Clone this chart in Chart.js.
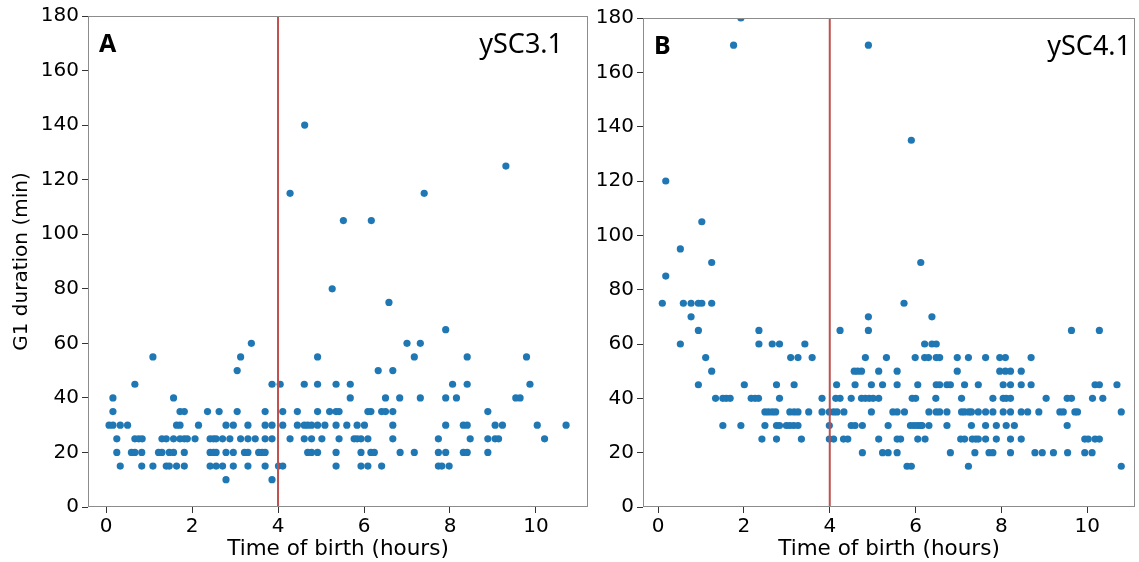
<!DOCTYPE html>
<html>
<head>
<meta charset="utf-8">
<script src="https://cdn.jsdelivr.net/npm/chart.js@4.4.1/dist/chart.umd.min.js"></script>
<style>
  body { margin: 0; background: #fff; }
  #wrapA { position: absolute; left: 0; top: 0; width: 592px; height: 562px; }
  #wrapB { position: absolute; left: 592px; top: 0; width: 547px; height: 562px; }
</style>
</head>
<body>
<div id="wrapA"><canvas id="chartA"></canvas></div>
<div id="wrapB"><canvas id="chartB"></canvas></div>
<script>
// G1 levels (min) and the birth times (hours) of the cells at each level
const levelsA = [140, 125, 115, 105, 80, 75, 65, 60, 55, 50, 45, 40, 35, 30, 25, 20, 15, 10];
const timesA = [
  [4.62],
  [9.30],
  [4.28, 7.40],
  [5.52, 6.17],
  [5.26],
  [6.58],
  [7.90],
  [3.38, 7.00, 7.31],
  [1.09, 3.13, 4.92, 7.17, 8.40, 9.78],
  [3.05, 6.33, 6.67],
  [0.67, 3.86, 4.05, 4.61, 4.92, 5.35, 5.68, 8.06, 8.40, 9.86],
  [0.16, 1.57, 5.68, 6.50, 6.83, 7.31, 7.90, 8.15, 9.53, 9.63],
  [0.16, 1.72, 1.82, 2.36, 2.63, 3.05, 3.70, 4.11, 4.45, 4.92, 5.20, 5.35, 5.42, 6.09, 6.16, 6.41, 6.50, 6.67, 8.88],
  [0.07, 0.16, 0.33, 0.50, 1.64, 1.72, 2.15, 2.79, 2.96, 3.30, 3.70, 3.86, 4.11, 4.45, 4.61, 4.69, 4.78, 4.92, 5.09, 5.35, 5.60, 5.84, 6.01, 6.67, 7.90, 8.31, 8.40, 9.05, 9.22, 10.03, 10.70],
  [0.25, 0.67, 0.76, 0.84, 1.30, 1.40, 1.57, 1.72, 1.82, 1.89, 2.07, 2.42, 2.50, 2.56, 2.71, 2.88, 3.13, 3.30, 3.47, 3.70, 3.86, 4.28, 4.61, 4.78, 5.02, 5.42, 5.77, 5.84, 5.93, 6.09, 6.67, 7.73, 8.47, 8.88, 9.05, 9.13, 10.20],
  [0.25, 0.59, 0.67, 0.83, 1.22, 1.30, 1.47, 1.57, 1.82, 2.42, 2.50, 2.56, 2.79, 2.96, 3.22, 3.30, 3.55, 3.63, 3.70, 4.69, 4.78, 4.92, 5.35, 5.93, 6.16, 6.24, 6.84, 7.17, 7.73, 7.90, 8.31, 8.40, 8.88],
  [0.33, 0.83, 1.09, 1.40, 1.47, 1.64, 1.82, 2.42, 2.56, 2.71, 2.96, 3.30, 3.70, 4.01, 4.11, 5.35, 5.93, 6.09, 6.41, 7.73, 7.81, 7.98],
  [2.79, 3.86]
];

const levelsB = [180, 170, 135, 120, 105, 95, 90, 85, 75, 70, 65, 60, 55, 50, 45, 40, 35, 30, 25, 20, 15];
const timesB = [
  [1.93],
  [1.76, 4.90],
  [5.90],
  [0.18],
  [1.02],
  [0.52],
  [1.25, 6.12],
  [0.18],
  [0.10, 0.59, 0.77, 0.94, 1.02, 1.25, 5.73],
  [0.77, 4.90, 6.38],
  [0.94, 2.35, 4.24, 4.90, 9.63, 10.28],
  [0.52, 2.35, 2.66, 2.83, 3.42, 6.21, 6.38, 6.48],
  [1.11, 3.09, 3.26, 3.59, 4.83, 5.32, 5.99, 6.21, 6.30, 6.48, 6.56, 6.97, 7.23, 7.63, 7.96, 8.09, 8.69],
  [1.25, 4.57, 4.65, 4.74, 5.14, 5.57, 6.97, 7.96, 8.09, 8.21, 8.46],
  [0.94, 2.01, 2.76, 3.17, 4.16, 4.59, 4.97, 5.23, 5.57, 6.05, 6.48, 6.56, 6.73, 6.81, 7.14, 7.46, 8.04, 8.21, 8.46, 8.69, 10.18, 10.28, 10.69],
  [1.34, 1.51, 1.59, 1.68, 2.17, 2.26, 2.34, 2.83, 3.82, 4.14, 4.24, 4.50, 4.74, 4.83, 4.92, 5.01, 5.14, 5.92, 6.00, 6.47, 7.07, 7.80, 8.04, 8.11, 8.21, 9.04, 9.53, 9.63, 10.12, 10.36],
  [2.49, 2.57, 2.66, 2.74, 3.07, 3.17, 3.26, 3.51, 3.82, 3.99, 4.09, 4.17, 4.33, 4.97, 5.47, 5.57, 5.74, 6.31, 6.48, 6.56, 6.73, 7.07, 7.14, 7.24, 7.30, 7.46, 7.63, 7.80, 8.04, 8.21, 8.46, 8.61, 8.87, 9.36, 9.44, 9.71, 9.77, 10.79],
  [1.51, 1.93, 2.49, 2.76, 2.83, 2.99, 3.07, 3.16, 3.26, 3.99, 4.50, 4.59, 4.76, 5.36, 5.88, 5.96, 6.04, 6.11, 6.15, 6.31, 6.73, 7.30, 7.63, 7.88, 8.11, 8.30, 9.53],
  [2.42, 2.76, 3.34, 3.99, 4.09, 4.32, 4.42, 5.14, 5.57, 5.65, 6.05, 6.22, 7.05, 7.14, 7.32, 7.40, 7.46, 7.63, 7.88, 8.21, 8.46, 9.94, 10.02, 10.18, 10.28],
  [4.76, 5.23, 5.36, 5.57, 6.81, 7.38, 7.71, 7.80, 8.21, 8.78, 8.95, 9.21, 9.54, 9.94, 10.11],
  [5.80, 5.90, 7.23, 10.79]
];

const xTicks = [0, 2, 4, 6, 8, 10];
const yTicks = [0, 20, 40, 60, 80, 100, 120, 140, 160, 180];
const cutoffHour = 4;

const tickFont = { family: 'DejaVu Sans', size: 20 };
const xTitleFont = { family: 'DejaVu Sans', size: 21.5 };
const yTitleFont = { family: 'DejaVu Sans', size: 20 };

function toPoints(levels, times) {
  return levels.flatMap((lvl, i) => times[i].map(t => ({ x: t, y: lvl })));
}

// frame round the plot area + panel letter and strain name
function panelPlugin(letter, strain) {
  return {
    id: 'panel' + letter,
    afterDraw(chart) {
      const { ctx, chartArea: a } = chart;
      ctx.save();
      ctx.strokeStyle = '#8c8c8c';
      ctx.lineWidth = 1;
      ctx.strokeRect(a.left + 0.5, a.top + 0.5, a.right - a.left - 1, a.bottom - a.top - 1);
      ctx.fillStyle = '#000';
      ctx.textBaseline = 'middle';
      ctx.font = 'bold 25px "Noto Sans"';
      ctx.textAlign = 'left';
      ctx.fillText(letter, a.left + 11, a.top + 29);
      ctx.font = '27px "Noto Sans"';
      ctx.textAlign = 'right';
      ctx.fillText(strain, a.right - (letter === 'A' ? 25 : 4), a.top + 29);
      ctx.restore();
    }
  };
}

function makeChart(id, levels, times, xMin, xMax, yWidth, showYTitle, pad, letter, strain) {
  const ctx = document.getElementById(id).getContext('2d');
  return new Chart(ctx, {
    type: 'scatter',
    data: {
      datasets: [
        {
          data: toPoints(levels, times),
          backgroundColor: '#1f77b4',
          borderWidth: 0,
          pointRadius: 3.6,
          order: 2
        },
        {
          type: 'line',
          data: [{ x: cutoffHour, y: 0 }, { x: cutoffHour, y: 180 }],
          borderColor: '#c0504d',
          borderWidth: 2,
          pointRadius: 0,
          order: 1
        }
      ]
    },
    options: {
      responsive: true,
      maintainAspectRatio: false,
      animation: false,
      layout: { padding: pad },
      plugins: { legend: { display: false }, tooltip: { enabled: false } },
      scales: {
        x: {
          type: 'linear',
          min: xMin,
          max: xMax,
          afterBuildTicks: s => { s.ticks = xTicks.map(v => ({ value: v })); },
          afterFit: s => { s.height = 55; },
          grid: { drawOnChartArea: false, drawTicks: true, tickLength: 6, color: '#333' },
          border: { display: false },
          ticks: { font: tickFont, color: '#000', padding: 2, maxRotation: 0 },
          title: { display: true, text: 'Time of birth (hours)', font: xTitleFont, color: '#000', padding: { top: 0, bottom: 0 } }
        },
        y: {
          min: 0,
          max: 180,
          afterBuildTicks: s => { s.ticks = yTicks.map(v => ({ value: v })); },
          afterFit: s => { s.width = yWidth; },
          grid: { drawOnChartArea: false, drawTicks: true, tickLength: 6, color: '#333' },
          border: { display: false },
          ticks: { font: tickFont, color: '#000', padding: 3 },
          title: { display: showYTitle, text: 'G1 duration (min)', font: yTitleFont, color: '#000', padding: { top: 10, bottom: 0 } }
        }
      }
    },
    plugins: [panelPlugin(letter, strain)]
  });
}

makeChart('chartA', levelsA, timesA, -0.42, 11.21, 88, true, { top: 16, right: 4, left: 0, bottom: 0 }, 'A', 'ySC3.1');
makeChart('chartB', levelsB, timesB, -0.35, 11.11, 51, false, { top: 18, right: 0, left: 0, bottom: 0 }, 'B', 'ySC4.1');
</script>
</body>
</html>
